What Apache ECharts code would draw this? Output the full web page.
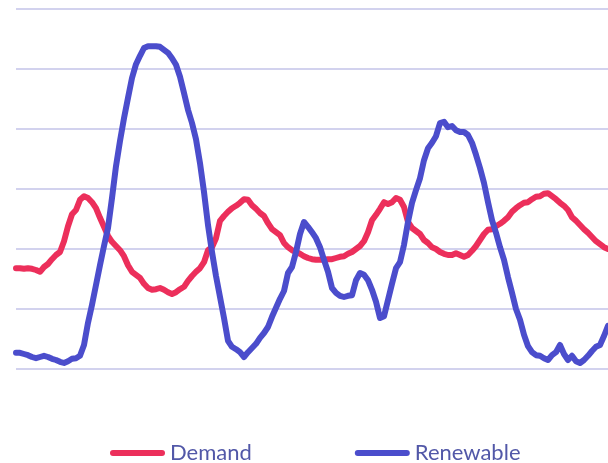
<!DOCTYPE html>
<html>
<head>
<meta charset="utf-8">
<style>
  html, body { margin: 0; padding: 0; background: #ffffff; }
  #chart { width: 608px; height: 463px; }
</style>
<script src="https://cdn.jsdelivr.net/npm/echarts@6/dist/echarts.min.js"></script>
</head>
<body>
<div id="chart"></div>
<script>
// Power demand vs. renewable generation (GW), sampled every ~40 minutes
const demand = [
  16.8, 16.8, 16.7, 16.8, 16.7, 16.5, 16.2, 17.0, 17.5, 18.3, 19.0, 19.5,
  21.3, 23.8, 25.8, 26.5, 28.2, 28.8, 28.5, 27.8, 26.8, 25.2, 23.7, 22.2,
  21.2, 20.5, 19.8, 18.8, 17.3, 16.2, 15.7, 15.2, 14.2, 13.5, 13.2, 13.3,
  13.5, 13.2, 12.8, 12.5, 12.8, 13.3, 13.7, 14.7, 15.5, 16.2, 16.8, 17.8,
  19.8, 20.3, 21.8, 24.7, 25.5, 26.2, 26.8, 27.2, 27.7, 28.3, 28.2, 27.3,
  26.7, 26.0, 25.5, 24.3, 23.3, 22.8, 22.3, 21.0, 20.3, 19.8, 19.5, 19.2,
  18.8, 18.5, 18.3, 18.2, 18.2, 18.2, 18.3, 18.3, 18.5, 18.7, 18.8, 19.2,
  19.5, 20.0, 20.5, 21.3, 22.8, 24.8, 25.7, 26.7, 27.8, 27.5, 27.8, 28.5,
  28.2, 27.0, 24.5, 23.5, 23.0, 22.5, 21.5, 21.0, 20.3, 20.0, 19.5, 19.2,
  19.0, 19.0, 19.3, 19.0, 18.7, 19.0, 19.7, 20.5, 21.5, 22.5, 23.2, 23.3,
  23.8, 24.2, 24.7, 25.3, 26.2, 26.8, 27.3, 27.7, 27.8, 28.3, 28.7, 28.8,
  29.2, 29.3, 28.8, 28.3, 27.7, 27.2, 26.5, 25.3, 24.7, 24.0, 23.3, 22.7,
  22.0, 21.3, 20.8, 20.3, 20.0
];
const renewable = [
  2.7, 2.7, 2.5, 2.3, 2.0, 1.8, 2.0, 2.2, 2.0, 1.7, 1.5, 1.2,
  1.0, 1.3, 1.7, 1.8, 2.2, 4.0, 7.7, 10.7, 14.0, 17.3, 20.5, 23.5,
  28.5, 33.8, 38.0, 41.8, 45.2, 48.5, 50.8, 52.2, 53.5, 53.8, 53.8, 53.8,
  53.7, 53.2, 52.7, 51.8, 50.7, 48.7, 46.0, 43.2, 41.0, 38.3, 34.3, 29.5,
  24.0, 19.5, 15.5, 12.0, 8.5, 4.7, 3.7, 3.3, 2.8, 2.0, 2.8, 3.5,
  4.2, 5.2, 6.0, 7.0, 8.7, 10.2, 11.7, 13.0, 16.0, 17.0, 19.5, 22.5,
  24.5, 23.7, 22.8, 21.8, 20.3, 18.2, 16.2, 13.5, 12.7, 12.2, 12.0, 12.2,
  12.3, 14.8, 16.0, 15.7, 14.8, 13.2, 11.2, 8.5, 8.8, 11.5, 14.2, 16.8,
  17.8, 20.7, 24.5, 27.7, 29.8, 31.8, 34.8, 36.8, 37.7, 38.8, 41.0, 41.2,
  40.3, 40.5, 39.8, 39.5, 39.5, 39.0, 37.7, 35.7, 33.5, 31.0, 27.8, 24.8,
  22.7, 20.3, 18.2, 15.3, 12.7, 10.0, 8.2, 5.7, 3.8, 2.8, 2.3, 2.2,
  1.8, 1.5, 2.3, 2.8, 4.0, 2.5, 1.5, 2.2, 1.3, 1.0, 1.5, 2.2,
  3.0, 3.7, 4.0, 5.5, 7.2
];
const seriesNames = ['Demand', 'Renewable'];
const seriesColors = ['#ec2f5b', '#4b4dcc'];

// time-step labels for the category axis (not displayed)
const steps = demand.map((_, i) => 'T' + i);

const chart = echarts.init(document.getElementById('chart'), null, { renderer: 'canvas' });

const pill = 'path://M3,0 H52 A3,3 0 0 1 52,6 H3 A3,3 0 0 1 3,0 Z';

chart.setOption({
  animation: false,
  backgroundColor: '#ffffff',
  grid: { left: 16, right: 0, top: 9, bottom: 94, containLabel: false },
  legend: {
    left: 105,
    top: 437,
    itemGap: 103,
    itemWidth: 55,
    itemHeight: 6,
    textStyle: { color: '#5258a8', fontFamily: 'Lato', fontSize: 22 },
    data: seriesNames.map((n) => ({ name: n, icon: pill }))
  },
  xAxis: {
    type: 'category',
    data: steps,
    boundaryGap: false,
    axisLine: { show: false },
    axisTick: { show: false },
    axisLabel: { show: false },
    splitLine: { show: false }
  },
  yAxis: {
    type: 'value',
    min: 0,
    max: 60,
    interval: 10,
    axisLine: { show: false },
    axisTick: { show: false },
    axisLabel: { show: false },
    splitLine: { show: true, lineStyle: { color: '#d2d2ee', width: 2 } }
  },
  series: [
    {
      name: seriesNames[0],
      type: 'line',
      data: demand,
      symbol: 'none',
      smooth: false,
      lineStyle: { color: seriesColors[0], width: 6, cap: 'round', join: 'round' },
      itemStyle: { color: seriesColors[0] }
    },
    {
      name: seriesNames[1],
      type: 'line',
      data: renewable,
      symbol: 'none',
      smooth: false,
      lineStyle: { color: seriesColors[1], width: 6, cap: 'round', join: 'round' },
      itemStyle: { color: seriesColors[1] }
    }
  ]
});
</script>
</body>
</html>
